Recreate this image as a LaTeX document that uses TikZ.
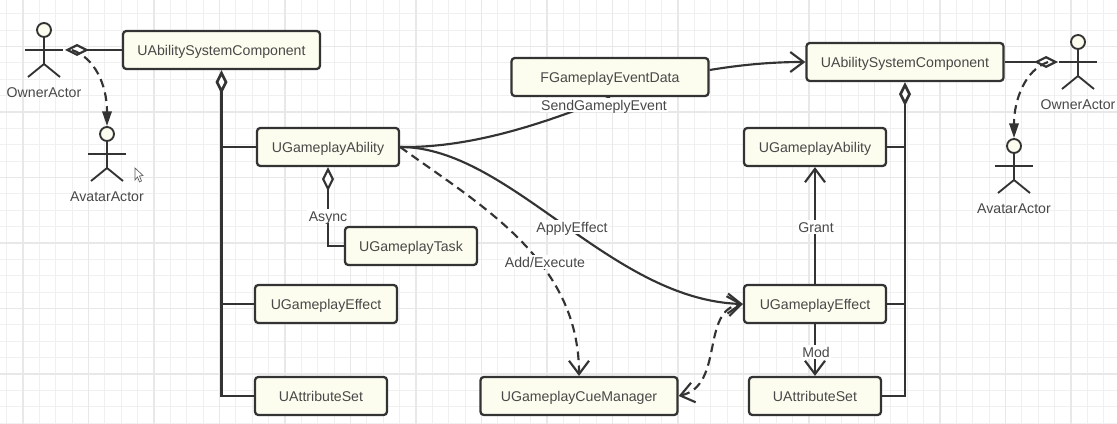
\documentclass[tikz,border=0pt]{standalone}
\usepackage{fontspec}
\setmainfont{Liberation Sans}
\usetikzlibrary{arrows.meta}

\definecolor{boxfill}{HTML}{FDFDEF}
\definecolor{linecol}{HTML}{333333}
\definecolor{textcol}{HTML}{484848}

\tikzset{
	gridminor/.style={draw=black!6,line width=0.75pt},
	gridmajor/.style={draw=black!9,line width=0.9pt},
	classbox/.style={draw=linecol,fill=boxfill,line width=1.7pt,rounded corners=2.5pt,minimum height=28.5pt,inner sep=0pt,text=textcol,text height=8.6pt,text depth=0pt,font=\fontsize{10.6}{12}\selectfont},
	widebox/.style={classbox,minimum width=147.75pt},
	midbox/.style={classbox,minimum width=106.5pt},
	smallbox/.style={classbox,minimum width=99pt},
	actorhead/.style={circle,draw=linecol,fill=boxfill,line width=1.4pt,minimum size=10.5pt,inner sep=0pt},
	actorline/.style={draw=linecol,line width=1.4pt},
	actorname/.style={text=textcol,inner sep=0pt,font=\fontsize{10.6}{12}\selectfont},
	edgelabel/.style={fill=white,text=textcol,inner sep=1pt,text height=8.6pt,text depth=0pt,font=\fontsize{10.6}{12}\selectfont},
	link/.style={draw=linecol,line width=1.6pt},
	trunk/.style={draw=linecol,line width=2pt},
	dashlink/.style={link,dash pattern=on 6.5pt off 4pt},
	barb/.tip={Straight Barb[length=10pt,width=15pt]},
	solidhead/.tip={Triangle[length=11pt,width=7pt]},
	hollowdiamond/.tip={Diamond[length=18pt,width=9pt,fill=white]},
}

\begin{document}
\begin{tikzpicture}[x=0.75pt,y=-0.75pt]
	\useasboundingbox (0,0) rectangle (1117,424);
	\fill[white] (0,0) rectangle (1117,424);

	\foreach \gi in {0,...,67}
		\draw[gridminor] ({6.625+16.375*\gi},0) -- ++(0,424);
	\foreach \gi in {0,...,25}
		\draw[gridminor] (0,{13.75+16.375*\gi}) -- ++(1117,0);
	\foreach \gi in {0,...,16}
		\draw[gridmajor] ({23+65.5*\gi},0) -- ++(0,424);
	\foreach \gi in {0,...,5}
		\draw[gridmajor] (0,{46.5+65.5*\gi}) -- ++(1117,0);

	\node (leftsystem) at (221.5,50)[widebox]{UAbilitySystemComponent};
	\node (leftability) at (328,147)[midbox]{UGameplayAbility};
	\node (task) at (411,246)[smallbox]{UGameplayTask};
	\node (lefteffect) at (326,304)[midbox]{UGameplayEffect};
	\node (leftattr) at (321,396)[smallbox]{UAttributeSet};
	\node (eventdata) at (610,77)[widebox]{FGameplayEventData};
	\node (cuemanager) at (579,396)[widebox]{UGameplayCueManager};
	\node (rightsystem) at (905,62)[widebox]{UAbilitySystemComponent};
	\node (rightability) at (815,147)[midbox]{UGameplayAbility};
	\node (righteffect) at (815,304)[midbox]{UGameplayEffect};
	\node (rightattr) at (815,396)[smallbox]{UAttributeSet};

	\foreach \aname/\ax/\ay/\atext in {leftowner/44/30/OwnerActor,leftavatar/107/134/AvatarActor,rightowner/1078/42/OwnerActor,rightavatar/1014/146/AvatarActor}{
		\node (\aname) at (\ax,\ay)[actorhead]{};
		\draw[actorline] (\aname.south) -- (\ax,\ay+34) -- (\ax-16,\ay+47);
		\draw[actorline] (\ax,\ay+34) -- (\ax+16,\ay+47);
		\draw[actorline] (\ax-19,\ay+20) -- (\ax+19,\ay+20);
		\node (\aname name) at (\ax,\ay+63)[actorname]{\atext};
	}

	\coordinate (lefthand) at (65,50);
	\coordinate (righthand) at (1058,62);
	\coordinate (leftdash) at (72,50);
	\coordinate (rightdash) at (1048,62);

	\draw[link,{hollowdiamond}-] (lefthand) -- (leftsystem.west);
	\draw[link,-{hollowdiamond}] (rightsystem.east) -- (righthand);
	\draw[dashlink,-{solidhead}] (leftdash) .. controls (95,58) and (107,85) .. (leftavatar.north);
	\draw[dashlink,-{solidhead}] (rightdash) .. controls (1025,70) and (1014,100) .. (rightavatar.north);

	\draw[trunk,{hollowdiamond}-] (leftsystem.south) -- (leftsystem.south |- leftattr.west) -- (leftattr.west);
	\draw[link] (leftability.west) -- (leftability.west -| leftsystem.south);
	\draw[link] (lefteffect.west) -- (lefteffect.west -| leftsystem.south);

	\draw[trunk,{hollowdiamond}-] (rightsystem.south) -- (rightsystem.south |- rightattr.east) -- (rightattr.east);
	\draw[link] (rightability.east) -- (rightability.east -| rightsystem.south);
	\draw[link] (righteffect.east) -- (righteffect.east -| rightsystem.south);

	\draw[link,{hollowdiamond}-] (leftability.south) -- (leftability.south |- task.west) -- (task.west);
	\node (asynclabel) at (328,216)[edgelabel]{Async};

	\draw[link] (leftability.east) .. controls (470,148) and (540,125) .. (eventdata.south);
	\node (sendlabel) at (604,105)[edgelabel]{SendGameplyEvent};
	\draw[link,-{barb}] (eventdata.east) ++(0,-7) .. controls (740,65) and (770,62) .. (rightsystem.west);

	\draw[link,-{barb}] (leftability.east) .. controls (510,147) and (610,300) .. (righteffect.west);
	\node (applylabel) at (572,227)[edgelabel]{ApplyEffect};

	\draw[dashlink,-{barb}] (leftability.east) .. controls (480,205) and (579,260) .. (cuemanager.north);
	\node (addlabel) at (545,262)[edgelabel]{Add/Execute};

	\draw[dashlink,{barb}-{barb}] (cuemanager.east) .. controls (725,385) and (700,310) .. (righteffect.west);

	\draw[link,-{barb}] (righteffect.north) -- (rightability.south);
	\node (grantlabel) at (816,227)[edgelabel]{Grant};
	\draw[link,-{barb}] (righteffect.south) -- (rightattr.north);
	\node (modlabel) at (816,352)[edgelabel]{Mod};

	\draw[draw=linecol!80,fill=white,line width=0.5pt] (135,168) -- (135,180) -- (137.5,177) -- (139.5,182) -- (141.5,181) -- (139.5,176) -- (143,175.5) -- cycle;
\end{tikzpicture}
\end{document}
